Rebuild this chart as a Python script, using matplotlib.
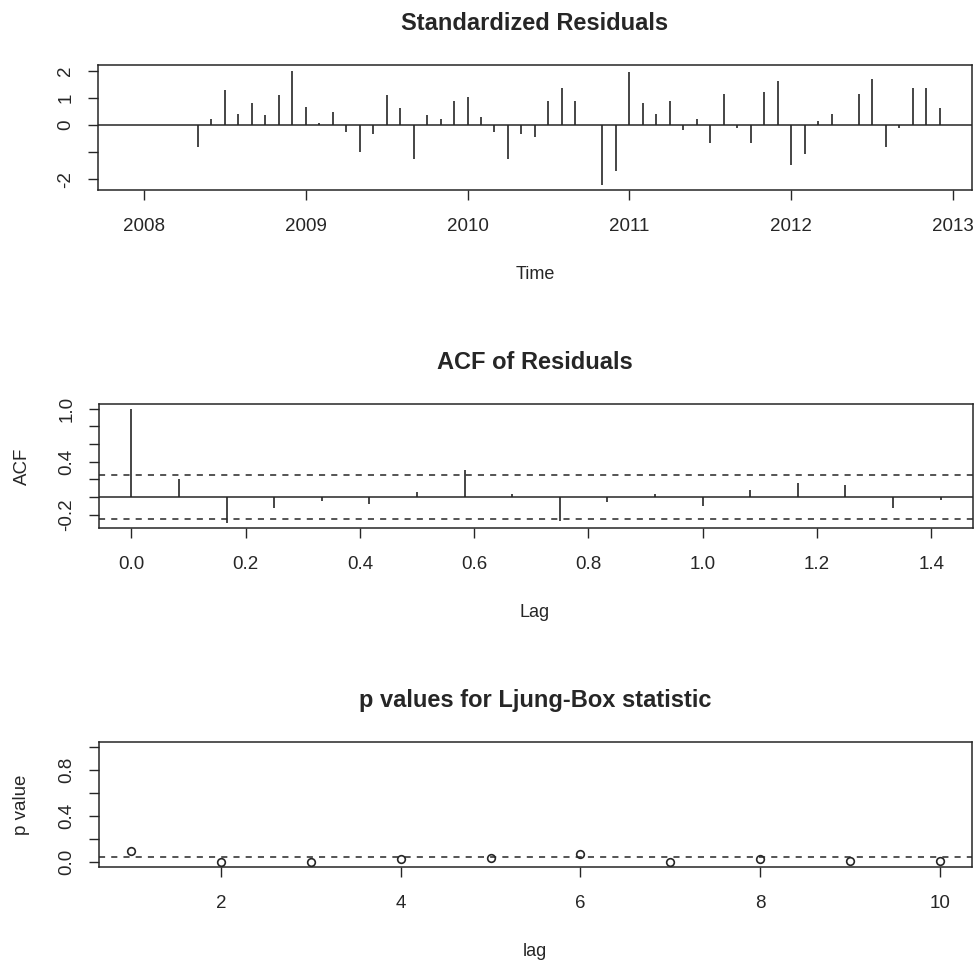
import numpy as np
import matplotlib
matplotlib.use('Agg')
import matplotlib.pyplot as plt

# Standardized residuals, monthly from Dec 2007 to Dec 2012
resid_start = 2007 + 11 / 12
residuals = [0.0,
             0.0, 0.0, 0.0, 0.0, -0.79, 0.23, 1.32, 0.43, 0.84, 0.37, 1.11, 1.99,
             0.69, 0.09, 0.49, -0.25, -1.00, -0.33, 1.11, 0.64, -1.27, 0.36, 0.23, 0.91,
             1.04, 0.30, -0.26, -1.27, -0.32, -0.43, 0.90, 1.38, 0.90, 0.0, -2.22, -1.68,
             1.98, 0.83, 0.42, 0.90, -0.19, 0.22, -0.65, 1.16, -0.11, -0.65, 1.23, 1.63,
             -1.48, -1.06, 0.15, 0.42, 0.0, 1.16, 1.70, -0.79, -0.11, 1.38, 1.38, 0.63]
resid_time = resid_start + np.arange(len(residuals)) / 12

# ACF of residuals (lag in years)
acf_lag = np.arange(18) / 12
acf_vals = [1.0, 0.20, -0.29, -0.13, -0.05, -0.08, 0.05, 0.30, 0.03,
            -0.27, -0.06, 0.03, -0.10, 0.08, 0.16, 0.14, -0.13, -0.03]
acf_ci = 0.251

# Ljung-Box p values
lb_lag = [1, 2, 3, 4, 5, 6, 7, 8, 9, 10]
lb_pval = [0.10, 0.00, 0.00, 0.026, 0.04, 0.07, 0.005, 0.03, 0.012, 0.01]

W, H = 978, 965
ink = '#262626'
plt.rcParams['font.family'] = ['Liberation Sans', 'DejaVu Sans']
plt.rcParams['axes.linewidth'] = 1.1
plt.rcParams['axes.edgecolor'] = ink
plt.rcParams['xtick.color'] = ink
plt.rcParams['ytick.color'] = ink
plt.rcParams['text.color'] = ink

fig = plt.figure(figsize=(W / 100, H / 100), dpi=100)
fig.patch.set_facecolor('white')


def rect(l, t, r, b):
    # pixel box -> figure fraction
    return [l / W, 1 - b / H, (r - l) / W, (b - t) / H]


def style(ax):
    for s in ax.spines.values():
        s.set_color(ink)
    ax.tick_params(axis='both', direction='out', length=7, width=1.0, labelsize=13.5)
    ax.tick_params(axis='x', pad=13)
    ax.tick_params(axis='y', pad=10)
    for lab in ax.get_yticklabels():
        lab.set_rotation(90)
        lab.set_va('center')


def title(y, txt):
    fig.text(535 / W, 1 - y / H, txt, ha='center', va='baseline',
             fontsize=17, fontweight='bold')


def xlab(y, txt):
    fig.text(535 / W, 1 - y / H, txt, ha='center', va='baseline', fontsize=13)


def ylab(y, txt):
    fig.text(22 / W, 1 - y / H, txt, ha='center', va='center', rotation=90, fontsize=13.5)


# Panel 1: standardized residuals
ax1 = fig.add_axes(rect(98, 65, 972, 190))
ax1.vlines(resid_time, 0, residuals, color=ink, lw=1.2)
ax1.axhline(0, color=ink, lw=1.1)
ax1.set_xlim(2007.717, 2013.117)
ax1.set_ylim(-2.40, 2.23)
ax1.set_xticks([2008, 2009, 2010, 2011, 2012, 2013])
ax1.set_yticks([-2, -1, 0, 1, 2])
ax1.set_yticklabels(['-2', '', '0', '1', '2'])
style(ax1)
title(30, 'Standardized Residuals')
xlab(279, 'Time')

# Panel 2: ACF of residuals
ax2 = fig.add_axes(rect(99, 404, 973, 528))
ax2.vlines(acf_lag, 0, acf_vals, color=ink, lw=1.2)
ax2.axhline(0, color=ink, lw=1.1)
for c in (acf_ci, -acf_ci):
    ax2.axhline(c, color=ink, lw=1.1, ls=(0, (4, 4)))
ax2.set_xlim(-0.0567, 1.4733)
ax2.set_ylim(-0.352, 1.052)
ax2.set_xticks([0.0, 0.2, 0.4, 0.6, 0.8, 1.0, 1.2, 1.4])
ax2.set_xticklabels(['0.0', '0.2', '0.4', '0.6', '0.8', '1.0', '1.2', '1.4'])
ax2.set_yticks([-0.2, 0.0, 0.2, 0.4, 0.6, 0.8, 1.0])
ax2.set_yticklabels(['-0.2', '', '', '0.4', '', '', '1.0'])
style(ax2)
title(369, 'ACF of Residuals')
xlab(617, 'Lag')
ylab(466, 'ACF')

# Panel 3: Ljung-Box p values
ax3 = fig.add_axes(rect(99, 742, 972, 867))
ax3.plot(lb_lag, lb_pval, 'o', ms=5.5, mfc='none', mec=ink, mew=1.2)
ax3.axhline(0.05, color=ink, lw=1.1, ls=(0, (4, 4)))
ax3.set_xlim(0.64, 10.36)
ax3.set_ylim(-0.04, 1.04)
ax3.set_xticks([2, 4, 6, 8, 10])
ax3.set_yticks([0.0, 0.2, 0.4, 0.6, 0.8, 1.0])
ax3.set_yticklabels(['0.0', '', '0.4', '', '0.8', ''])
style(ax3)
title(707, 'p values for Ljung-Box statistic')
xlab(956, 'lag')
ylab(805, 'p value')

fig.savefig('out.png', dpi=100, facecolor='white')
